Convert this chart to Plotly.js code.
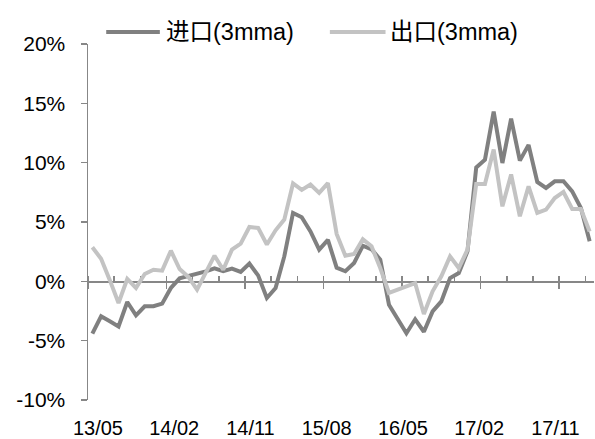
<!DOCTYPE html>
<html>
<head>
<meta charset="utf-8">
<script src="https://cdn.plot.ly/plotly-3.0.1.min.js"></script>
<style>
  html, body { margin: 0; padding: 0; background: #fff; }
  #chart { width: 595px; height: 439px; }
</style>
</head>
<body>
<div id="chart"></div>
<script>
// Monthly series, 2013/05 to 2018/02, 3-month moving average growth (%)
const startYear = 2013;
const startMonth = 5;

const importVals = [
  -4.4, -2.95, -3.37, -3.8, -1.74, -2.87, -2.1, -2.1, -1.88, -0.56,
  0.25, 0.42, 0.62, 0.84, 1.1, 0.85, 1.07, 0.79, 1.5, 0.5,
  -1.4, -0.56, 2.1, 5.76, 5.4, 4.2, 2.67, 3.5, 1.15, 0.85,
  1.55, 3.0, 2.7, 1.83, -1.97, -3.15, -4.38, -3.2, -4.25, -2.53,
  -1.69, 0.28, 0.7, 2.53, 9.6, 10.25, 14.3, 9.97, 13.7, 10.17,
  11.5, 8.37, 7.87, 8.43, 8.43, 7.58, 6.18, 3.37
];

const exportVals = [
  2.87, 1.9, 0.1, -1.83, 0.2, -0.56, 0.62, 0.98, 0.9, 2.58,
  1.04, 0.37, -0.7, 0.7, 2.16, 0.98, 2.67, 3.17, 4.58, 4.5,
  3.1, 4.3, 5.2, 8.25, 7.7, 8.15, 7.45, 8.27, 4.0, 2.15,
  2.3, 3.55, 2.95, 1.12, -0.98, -0.7, -0.42, -0.15, -2.75, -0.84,
  0.42, 2.1, 1.12, 2.67, 8.2, 8.2, 11.1, 6.32, 9.0, 5.48,
  8.0, 5.76, 6.04, 7.02, 7.53, 6.1, 6.1, 4.2
];

const tickLabels = ['13/05', '14/02', '14/11', '15/08', '16/05', '17/02', '17/11'];
const yTickVals = [-10, -5, 0, 5, 10, 15, 20];
const yTickLabels = ['-10%', '-5%', '0%', '5%', '10%', '15%', '20%'];
const seriesNames = ['进口(3mma)', '出口(3mma)'];

// month index along the x axis; each month occupies one unit slot
const monthIdx = importVals.map((_, i) => i);
const monthText = monthIdx.map(i => {
  const m = startMonth - 1 + i;
  const yy = String((startYear + Math.floor(m / 12)) % 100).padStart(2, '0');
  const mm = String(m % 12 + 1).padStart(2, '0');
  return yy + '/' + mm;
});

const axisGray = '#878787';
const darkGray = '#808080';
const lightGray = '#c3c3c3';
const fontFam = 'Arial, "Liberation Sans", "Noto Sans CJK SC", sans-serif';
const fontSize = 20;
const yFontSize = 21;
const legendFontSize = 23.5;

const n = importVals.length;
const xRange = [-0.5, n - 0.5];
const yRange = [-10, 20];
const zeroPos = (0 - yRange[0]) / (yRange[1] - yRange[0]);

// slot boundaries: long marks every 9 months, short marks every 3 months
const majorTicks = tickLabels.map((_, k) => k * 9 - 0.5);
const labelPos = tickLabels.map((_, k) => 0.64 + k * 8.74);

const traces = [
  {
    x: monthIdx, y: importVals, text: monthText, name: seriesNames[0],
    type: 'scatter', mode: 'lines', xaxis: 'x', yaxis: 'y',
    line: { color: darkGray, width: 4, shape: 'linear' },
    showlegend: false, hovertemplate: '%{text}: %{y:.1f}%<extra></extra>'
  },
  {
    x: monthIdx, y: exportVals, text: monthText, name: seriesNames[1],
    type: 'scatter', mode: 'lines', xaxis: 'x2', yaxis: 'y',
    line: { color: lightGray, width: 4, shape: 'linear' },
    showlegend: false, hovertemplate: '%{text}: %{y:.1f}%<extra></extra>'
  }
];

// legend drawn as sample strokes plus text above the plot
const legendItems = [
  { x0: 0.036, x1: 0.142, tx: 0.150, color: darkGray, label: seriesNames[0] },
  { x0: 0.478, x1: 0.588, tx: 0.592, color: lightGray, label: seriesNames[1] }
];
const legendY = 1.034;

const layout = {
  width: 595, height: 439,
  margin: { l: 88, r: 1, t: 44, b: 39, pad: 0 },
  paper_bgcolor: '#ffffff', plot_bgcolor: '#ffffff',
  font: { family: fontFam, size: fontSize, color: '#000' },
  showlegend: false,
  // x axis sits on the zero line, carrying the month tick marks
  xaxis: {
    type: 'linear', range: xRange, fixedrange: true, anchor: 'free', position: zeroPos,
    showgrid: false, zeroline: false,
    showline: true, linecolor: axisGray, linewidth: 1.5, layer: 'below traces',
    showticklabels: false,
    ticks: 'outside', ticklen: 6, tickwidth: 1.5, tickcolor: axisGray,
    tickmode: 'array', tickvals: majorTicks,
    minor: { ticks: 'inside', ticklen: 5, tickwidth: 1.5, tickcolor: axisGray, tickmode: 'linear', tick0: -0.5, dtick: 3, showgrid: false }
  },
  // month labels along the bottom edge
  xaxis2: {
    type: 'linear', range: xRange, overlaying: 'x', anchor: 'y', side: 'bottom',
    fixedrange: true, showgrid: false, zeroline: false, showline: false,
    ticks: '', tickmode: 'array', tickvals: labelPos, ticktext: tickLabels,
    ticklabelstandoff: 14,
    tickfont: { family: fontFam, size: fontSize, color: '#000' }
  },
  yaxis: {
    range: yRange, fixedrange: true, tickmode: 'array', tickvals: yTickVals, ticktext: yTickLabels,
    showgrid: false, zeroline: false,
    showline: true, linecolor: axisGray, linewidth: 1.5, layer: 'below traces',
    ticks: 'outside', ticklen: 6, tickwidth: 1.5, tickcolor: axisGray,
    ticklabelstandoff: 11,
    tickfont: { family: fontFam, size: yFontSize, color: '#000' }
  },
  shapes: legendItems.map(it => ({
    type: 'line', xref: 'paper', yref: 'paper',
    x0: it.x0, x1: it.x1, y0: legendY, y1: legendY,
    line: { color: it.color, width: 4 }
  })),
  annotations: legendItems.map(it => ({
    xref: 'paper', yref: 'paper', x: it.tx, y: legendY,
    xanchor: 'left', yanchor: 'middle', showarrow: false,
    text: it.label, font: { family: fontFam, size: legendFontSize, color: '#000' }
  }))
};

Plotly.newPlot('chart', traces, layout, { displayModeBar: false, staticPlot: true });
</script>
</body>
</html>
